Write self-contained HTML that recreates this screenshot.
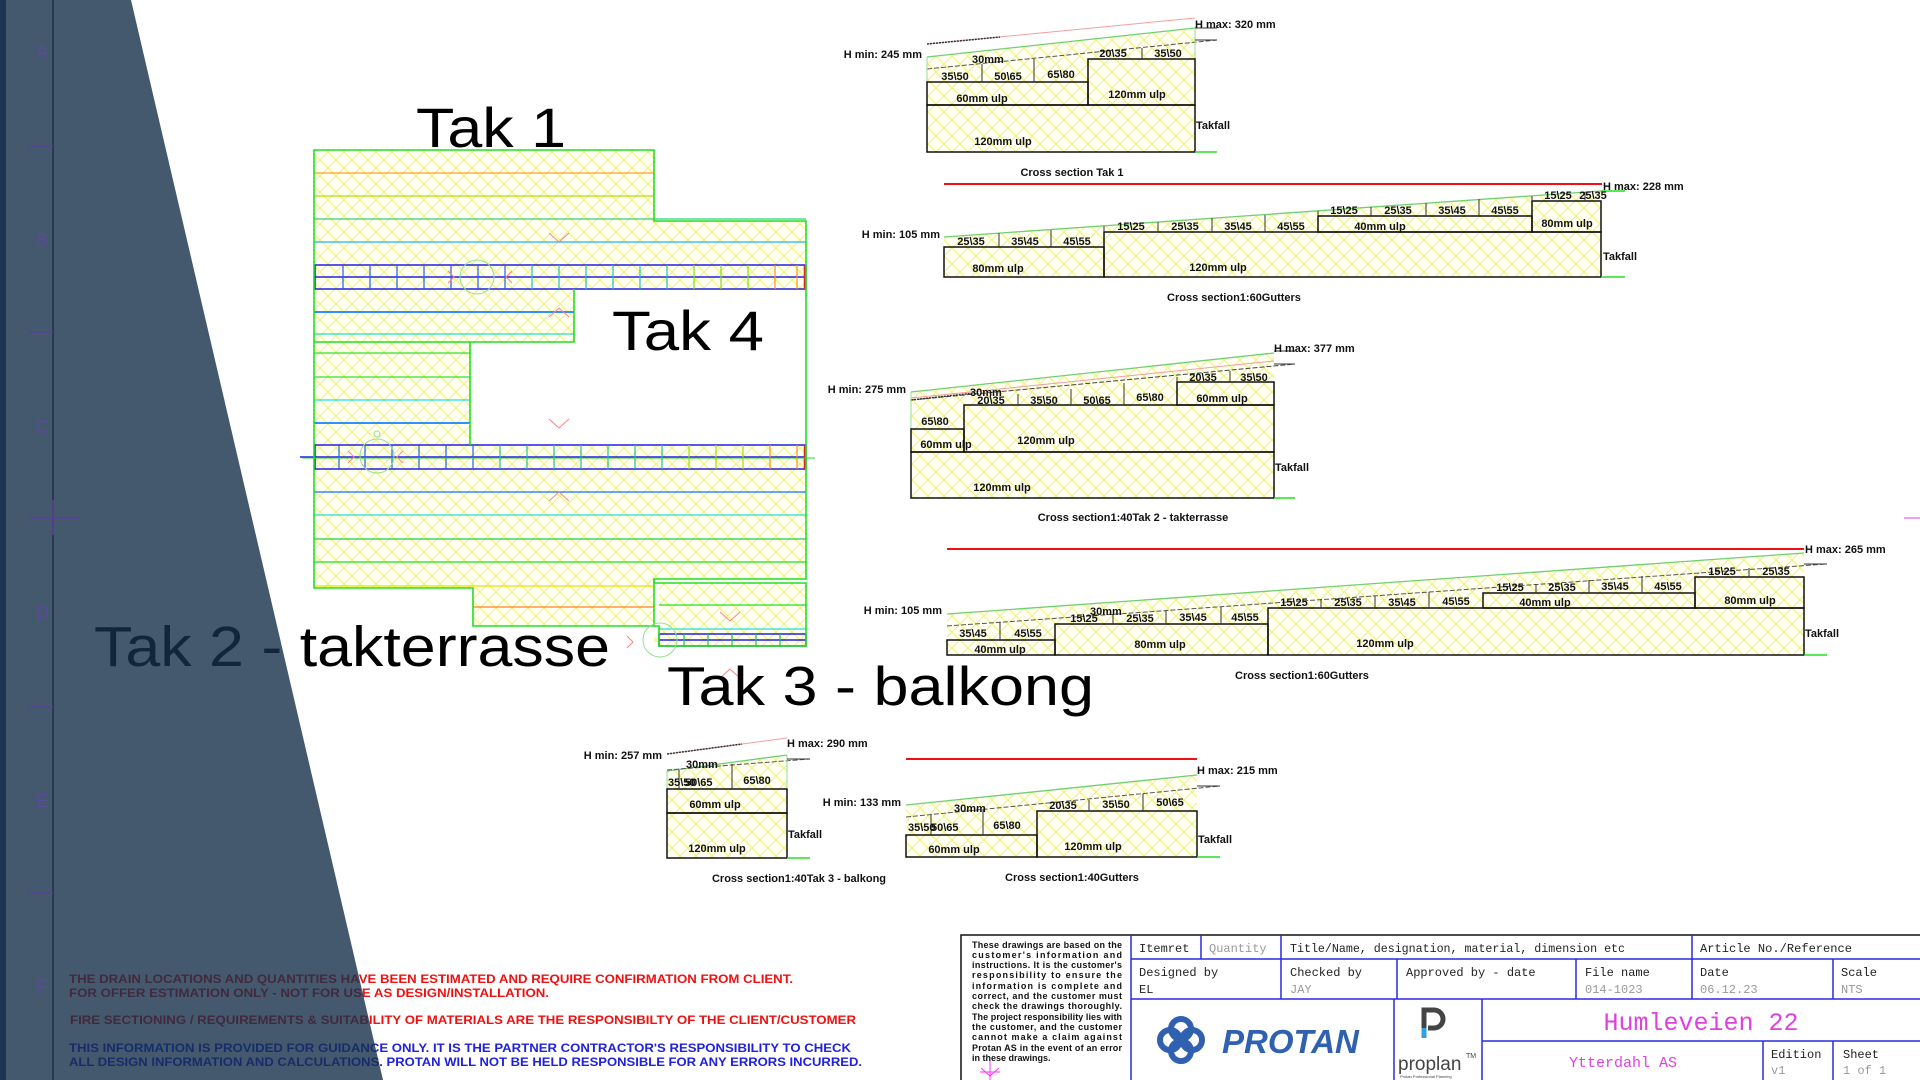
<!DOCTYPE html>
<html><head><meta charset="utf-8"><style>
html,body{margin:0;padding:0;background:#fff;}
svg{display:block;}
.t{font-family:"Liberation Sans",Arial,sans-serif;font-weight:bold;font-size:11px;fill:#111;}
.c{text-anchor:middle;}
.big{font-family:"Liberation Sans",Arial,sans-serif;fill:#000;}
.tb{font-family:"Liberation Mono","DejaVu Sans Mono",monospace;font-size:12px;fill:#222;}
.tv{font-family:"Liberation Mono","DejaVu Sans Mono",monospace;font-size:12px;fill:#999;}
</style></head><body>
<svg width="1920" height="1080" viewBox="0 0 1920 1080" xmlns="http://www.w3.org/2000/svg">
<defs>
<pattern id="h" width="16" height="16" patternUnits="userSpaceOnUse">
<rect width="16" height="16" fill="#fffff2"/>
<path d="M0 0L16 16M16 0L0 16" stroke="#f0ee70" stroke-width="0.9"/>
</pattern>
</defs>
<rect width="1920" height="1080" fill="#fff"/>

<!-- PLAN -->
<g>
<path d="M314 150H654V221H806V579H654V646H659V583H806V646H659V626H473V588H314Z" fill="url(#h)"/>
<rect x="574" y="289" width="232" height="156" fill="#fff"/>
<rect x="470" y="342" width="104" height="103" fill="#fff"/>
<g stroke-width="1.3" fill="none">
<line x1="314" y1="173" x2="654" y2="173" stroke="#ffa020"/>
<line x1="314" y1="196" x2="654" y2="196" stroke="#b0e000"/>
<line x1="314" y1="219" x2="806" y2="219" stroke="#30d080"/>
<line x1="314" y1="242" x2="806" y2="242" stroke="#20b0ff"/>
<line x1="314" y1="312" x2="574" y2="312" stroke="#3090ff" stroke-width="2"/>
<line x1="314" y1="334" x2="574" y2="334" stroke="#20e0c0"/>
<line x1="314" y1="353" x2="470" y2="353" stroke="#30e030"/>
<line x1="314" y1="377" x2="470" y2="377" stroke="#30e030"/>
<line x1="314" y1="400" x2="470" y2="400" stroke="#20e0e0"/>
<line x1="314" y1="423" x2="470" y2="423" stroke="#3090ff" stroke-width="2"/>
<line x1="314" y1="492" x2="806" y2="492" stroke="#1070ff"/>
<line x1="314" y1="515" x2="806" y2="515" stroke="#20e0e0"/>
<line x1="314" y1="539" x2="806" y2="539" stroke="#20d040"/>
<line x1="314" y1="562" x2="806" y2="562" stroke="#20e020"/>
<line x1="314" y1="586" x2="654" y2="586" stroke="#e8e000"/>
<line x1="473" y1="607" x2="654" y2="607" stroke="#ff8020"/>
<line x1="659" y1="605" x2="806" y2="605" stroke="#20e020"/>
<line x1="659" y1="629" x2="806" y2="629" stroke="#20e0e0"/>
</g>
<g stroke="#2020e0" stroke-width="1.5" fill="none">
<rect x="315" y="265" width="491" height="24"/>
<line x1="315" y1="277" x2="806" y2="277"/>
<rect x="315" y="445" width="491" height="24"/>
<line x1="300" y1="457" x2="806" y2="457"/>
<rect x="659" y="634" width="147" height="12"/>
<line x1="659" y1="640" x2="806" y2="640"/>
</g>
<g stroke-width="1.2">
<path d="M343 265v24M370 265v24M397 265v24M424 265v24M451 265v24M478 265v24M505 265v24" stroke="#2060f0"/>
<path d="M532 265v24M559 265v24M586 265v24M613 265v24M640 265v24M667 265v24" stroke="#20c0c0"/>
<path d="M694 265v24M721 265v24M748 265v24" stroke="#80e000"/>
<path d="M775 265v24M797 265v24" stroke="#ff9020"/>
<path d="M339 445v24M365 445v24M392 445v24M419 445v24M446 445v24M473 445v24" stroke="#2060f0"/>
<path d="M500 445v24M527 445v24M554 445v24M581 445v24M608 445v24M635 445v24M662 445v24" stroke="#20c0a0"/>
<path d="M689 445v24M716 445v24M743 445v24" stroke="#a0e000"/>
<path d="M770 445v24M797 445v24" stroke="#ff9020"/>
<path d="M684 634v12M708 634v12M732 634v12M756 634v12M780 634v12" stroke="#20c060"/>
</g>
<line x1="805" y1="265" x2="805" y2="289" stroke="#e02020" stroke-width="2.5"/>
<line x1="805" y1="445" x2="805" y2="469" stroke="#e02020" stroke-width="2.5"/>
<line x1="302" y1="458" x2="815" y2="458" stroke="#30d030" stroke-width="1"/>
<path d="M314 150H654V221H806V579H654V583H806V646H659V626H473V588H314Z" fill="none" stroke="#20e020" stroke-width="1.6"/>
<path d="M314 342H574V289M470 342V445" fill="none" stroke="#20e020" stroke-width="1.6"/>
<line x1="654" y1="579" x2="654" y2="626" stroke="#20e020" stroke-width="1.6"/>
<g fill="none" stroke="#90e090" stroke-width="1">
<circle cx="477" cy="277" r="17"/><circle cx="377" cy="456" r="17"/><circle cx="660" cy="640" r="17"/><circle cx="377" cy="434" r="3"/>
</g>
<g fill="none" stroke="#ff8080" stroke-width="1">
<path d="M549 233l10 9 10-9M549 317l10-9 10 9M549 419l10 9 10-9M549 501l10-9 10 9M720 612l10 9 10-9M720 678l10-9 10 9"/>
<path d="M448 271l6 6-6 6M512 271l-6 6 6 6M348 451l6 6-6 6M403 451l-6 6 6 6M627 636l6 6-6 6"/>
</g>
</g>

<text class="big" x="416" y="147" font-size="56" textLength="150" lengthAdjust="spacingAndGlyphs">Tak 1</text>
<text class="big" x="612" y="350" font-size="56" textLength="152" lengthAdjust="spacingAndGlyphs">Tak 4</text>
<text class="big" x="94" y="666" font-size="57" textLength="516" lengthAdjust="spacingAndGlyphs">Tak 2 - takterrasse</text>
<text class="big" x="667" y="705" font-size="55" textLength="427" lengthAdjust="spacingAndGlyphs">Tak 3 - balkong</text>

<!-- CS1 -->
<g>
<polygon points="927,57 1195,28 1195,152 927,152" fill="url(#h)"/>
<line x1="927" y1="44" x2="1195" y2="18" stroke="#f0a0a0"/>
<line x1="927" y1="44" x2="1000" y2="37" stroke="#333" stroke-width="1.5" stroke-dasharray="2 1"/>
<line x1="927" y1="57" x2="1195" y2="28" stroke="#70d070" stroke-width="1.3"/>
<line x1="927" y1="69" x2="1217" y2="40" stroke="#555" stroke-dasharray="5 2"/>
<path d="M927 57V82M1195 28V59" stroke="#90e090"/>
<g fill="none" stroke="#111" stroke-width="1.5">
<rect x="927" y="105" width="268" height="47"/>
<rect x="927" y="82" width="161" height="23"/>
<rect x="1088" y="59" width="107" height="46"/>
</g>
<path d="M982 64V82M1034 59V82M1142 48V59M1195 28H1217M1195 40H1217" stroke="#333"/>
<line x1="1195" y1="152" x2="1217" y2="152" stroke="#20e020" stroke-width="1.5"/>
<text class="t" x="1195" y="28">H max: 320 mm</text>
<text class="t" x="922" y="58" text-anchor="end">H min: 245 mm</text>
<text class="t" x="1196" y="129">Takfall</text>
<text class="t c" x="1072" y="176">Cross section Tak 1</text>
<text class="t" x="972" y="63">30mm</text>
<text class="t c" x="955" y="80">35\50</text>
<text class="t c" x="1008" y="80">50\65</text>
<text class="t c" x="1061" y="78">65\80</text>
<text class="t c" x="1113" y="57">20\35</text>
<text class="t c" x="1168" y="57">35\50</text>
<text class="t c" x="982" y="102">60mm ulp</text>
<text class="t c" x="1137" y="98">120mm ulp</text>
<text class="t c" x="1003" y="145">120mm ulp</text>
</g>

<!-- CS2 -->
<g>
<polygon points="944,247 944,237 1601,191 1601,277 944,277" fill="url(#h)"/>
<line x1="944" y1="184" x2="1602" y2="184" stroke="#f01010" stroke-width="2"/>
<line x1="944" y1="237" x2="1601" y2="191" stroke="#70d070" stroke-width="1.3"/>
<path d="M1601 191H1625" stroke="#20e020" stroke-width="1.5"/>
<g fill="none" stroke="#111" stroke-width="1.5">
<rect x="944" y="247" width="160" height="30"/>
<rect x="1104" y="232" width="497" height="45"/>
<rect x="1318" y="216" width="214" height="16"/>
<rect x="1532" y="201" width="69" height="31"/>
</g>
<path d="M999 233V247M1051 230V247M1158 222V232M1212 218V232M1265 215V232M1318 211V216M1371 207V216M1426 203V216M1479 199V216M1585 192V201M1104 226V232M1532 196V201" stroke="#333"/>
<line x1="1601" y1="277" x2="1625" y2="277" stroke="#20e020" stroke-width="1.5"/>
<text class="t" x="1603" y="190">H max: 228 mm</text>
<text class="t" x="940" y="238" text-anchor="end">H min: 105 mm</text>
<text class="t" x="1603" y="260">Takfall</text>
<text class="t c" x="1234" y="301">Cross section1:60Gutters</text>
<text class="t c" x="971" y="245">25\35</text><text class="t c" x="1025" y="245">35\45</text><text class="t c" x="1077" y="245">45\55</text>
<text class="t c" x="1131" y="230">15\25</text><text class="t c" x="1185" y="230">25\35</text><text class="t c" x="1238" y="230">35\45</text><text class="t c" x="1291" y="230">45\55</text>
<text class="t c" x="1344" y="214">15\25</text><text class="t c" x="1398" y="214">25\35</text><text class="t c" x="1452" y="214">35\45</text><text class="t c" x="1505" y="214">45\55</text>
<text class="t c" x="1558" y="199">15\25</text><text class="t c" x="1593" y="199">25\35</text>
<text class="t c" x="998" y="272">80mm ulp</text>
<text class="t c" x="1218" y="271">120mm ulp</text>
<text class="t c" x="1380" y="230">40mm ulp</text>
<text class="t c" x="1567" y="227">80mm ulp</text>
</g>

<!-- CS3 -->
<g>
<polygon points="911,392 1274,353 1274,498 911,498" fill="url(#h)"/>
<line x1="911" y1="392" x2="1274" y2="353" stroke="#70d070" stroke-width="1.3"/>
<line x1="911" y1="398" x2="1274" y2="361" stroke="#f0a0a0"/>
<line x1="911" y1="400" x2="1295" y2="364" stroke="#444" stroke-dasharray="5 2"/>
<line x1="911" y1="400" x2="975" y2="393" stroke="#333" stroke-width="1.5" stroke-dasharray="2 1"/>
<path d="M911 392V429" stroke="#90e090"/>
<g fill="none" stroke="#111" stroke-width="1.5">
<rect x="911" y="452" width="363" height="46"/>
<rect x="911" y="429" width="53" height="23"/>
<rect x="964" y="405" width="310" height="47"/>
<rect x="1177" y="382" width="97" height="23"/>
</g>
<path d="M1018 394V405M1071 389V405M1124 383V405M1177 377V382M1230 371V382M1274 351H1295M1274 364H1295" stroke="#333"/>
<line x1="1274" y1="498" x2="1295" y2="498" stroke="#20e020" stroke-width="1.5"/>
<text class="t" x="1274" y="352">H max: 377 mm</text>
<text class="t" x="906" y="393" text-anchor="end">H min: 275 mm</text>
<text class="t" x="1275" y="471">Takfall</text>
<text class="t c" x="1133" y="521">Cross section1:40Tak 2 - takterrasse</text>
<text class="t" x="970" y="396">30mm</text>
<text class="t c" x="991" y="404">20\35</text><text class="t c" x="1044" y="404">35\50</text><text class="t c" x="1097" y="404">50\65</text><text class="t c" x="1150" y="401">65\80</text>
<text class="t c" x="1203" y="381">20\35</text><text class="t c" x="1254" y="381">35\50</text>
<text class="t c" x="1222" y="402">60mm ulp</text>
<text class="t c" x="935" y="425">65\80</text>
<text class="t c" x="946" y="448">60mm ulp</text>
<text class="t c" x="1046" y="444">120mm ulp</text>
<text class="t c" x="1002" y="491">120mm ulp</text>
</g>

<!-- CS4 -->
<g>
<polygon points="947,614 1804,553 1804,655 947,655" fill="url(#h)"/>
<line x1="947" y1="549" x2="1804" y2="549" stroke="#f01010" stroke-width="2"/>
<line x1="947" y1="614" x2="1804" y2="553" stroke="#70d070" stroke-width="1.3"/>
<line x1="947" y1="626" x2="1827" y2="564" stroke="#555" stroke-dasharray="5 2"/>
<g fill="none" stroke="#111" stroke-width="1.5">
<rect x="947" y="640" width="108" height="15"/>
<rect x="1055" y="624" width="213" height="31"/>
<rect x="1268" y="608" width="536" height="47"/>
<rect x="1483" y="593" width="212" height="15"/>
<rect x="1695" y="577" width="109" height="31"/>
</g>
<path d="M1000 622V640M1113 614V624M1166 611V624M1221 607V624M1321 599V608M1375 596V608M1429 592V608M1536 584V593M1589 580V593M1642 576V593M1749 568V577M1804 564H1827" stroke="#333"/>
<line x1="1804" y1="655" x2="1827" y2="655" stroke="#20e020" stroke-width="1.5"/>
<text class="t" x="1805" y="553">H max: 265 mm</text>
<text class="t" x="942" y="614" text-anchor="end">H min: 105 mm</text>
<text class="t" x="1805" y="637">Takfall</text>
<text class="t c" x="1302" y="679">Cross section1:60Gutters</text>
<text class="t" x="1090" y="615">30mm</text>
<text class="t c" x="973" y="637">35\45</text><text class="t c" x="1028" y="637">45\55</text>
<text class="t c" x="1000" y="653">40mm ulp</text>
<text class="t c" x="1084" y="622">15\25</text><text class="t c" x="1140" y="622">25\35</text><text class="t c" x="1193" y="621">35\45</text><text class="t c" x="1245" y="621">45\55</text>
<text class="t c" x="1160" y="648">80mm ulp</text>
<text class="t c" x="1294" y="606">15\25</text><text class="t c" x="1348" y="606">25\35</text><text class="t c" x="1402" y="606">35\45</text><text class="t c" x="1456" y="605">45\55</text>
<text class="t c" x="1385" y="647">120mm ulp</text>
<text class="t c" x="1510" y="591">15\25</text><text class="t c" x="1562" y="591">25\35</text><text class="t c" x="1615" y="590">35\45</text><text class="t c" x="1668" y="590">45\55</text>
<text class="t c" x="1545" y="606">40mm ulp</text>
<text class="t c" x="1722" y="575">15\25</text><text class="t c" x="1776" y="575">25\35</text>
<text class="t c" x="1750" y="604">80mm ulp</text>
</g>

<!-- CS5 -->
<g>
<polygon points="667,771 787,755 787,858 667,858" fill="url(#h)"/>
<line x1="667" y1="754" x2="787" y2="738" stroke="#f0a0a0"/>
<line x1="667" y1="754" x2="742" y2="744" stroke="#333" stroke-width="1.5" stroke-dasharray="2 1"/>
<line x1="667" y1="771" x2="787" y2="755" stroke="#70d070" stroke-width="1.3"/>
<line x1="667" y1="770" x2="810" y2="759" stroke="#555" stroke-dasharray="5 2"/>
<path d="M667 771V789M787 755V789" stroke="#90e090"/>
<g fill="none" stroke="#111" stroke-width="1.5">
<rect x="667" y="789" width="120" height="24"/>
<rect x="667" y="813" width="120" height="45"/>
</g>
<path d="M679 770V789M732 764V789M787 759H810" stroke="#333"/>
<line x1="787" y1="858" x2="810" y2="858" stroke="#20e020" stroke-width="1.5"/>
<text class="t" x="787" y="747">H max: 290 mm</text>
<text class="t" x="662" y="759" text-anchor="end">H min: 257 mm</text>
<text class="t" x="788" y="838">Takfall</text>
<text class="t c" x="799" y="882">Cross section1:40Tak 3 - balkong</text>
<text class="t" x="686" y="768">30mm</text>
<text class="t" x="668" y="786">35\50</text><text class="t" x="685" y="786">50\65</text>
<text class="t c" x="757" y="784">65\80</text>
<text class="t c" x="715" y="808">60mm ulp</text>
<text class="t c" x="717" y="852">120mm ulp</text>
</g>

<!-- CS6 -->
<g>
<polygon points="906,805 1197,775 1197,857 906,857" fill="url(#h)"/>
<line x1="906" y1="759" x2="1197" y2="759" stroke="#f01010" stroke-width="2"/>
<line x1="906" y1="805" x2="1197" y2="775" stroke="#70d070" stroke-width="1.3"/>
<line x1="906" y1="817" x2="1220" y2="786" stroke="#555" stroke-dasharray="5 2"/>
<g fill="none" stroke="#111" stroke-width="1.5">
<rect x="906" y="835" width="131" height="22"/>
<rect x="1037" y="811" width="160" height="46"/>
</g>
<path d="M931 815V835M983 810V835M1089 800V811M1143 794V811M1197 786H1220" stroke="#333"/>
<line x1="1197" y1="857" x2="1220" y2="857" stroke="#20e020" stroke-width="1.5"/>
<text class="t" x="1197" y="774">H max: 215 mm</text>
<text class="t" x="901" y="806" text-anchor="end">H min: 133 mm</text>
<text class="t" x="1198" y="843">Takfall</text>
<text class="t c" x="1072" y="881">Cross section1:40Gutters</text>
<text class="t" x="954" y="812">30mm</text>
<text class="t" x="908" y="831">35\50</text><text class="t" x="931" y="831">50\65</text>
<text class="t c" x="1007" y="829">65\80</text>
<text class="t c" x="1063" y="809">20\35</text><text class="t c" x="1116" y="808">35\50</text><text class="t c" x="1170" y="806">50\65</text>
<text class="t c" x="954" y="853">60mm ulp</text>
<text class="t c" x="1093" y="850">120mm ulp</text>
</g>

<!-- notes -->
<g font-family="'Liberation Sans',Arial,sans-serif" font-weight="bold" font-size="11.5">
<text x="69" y="983" fill="#f01010" textLength="724" lengthAdjust="spacingAndGlyphs">THE DRAIN LOCATIONS AND QUANTITIES HAVE BEEN ESTIMATED AND REQUIRE CONFIRMATION FROM CLIENT.</text>
<text x="69" y="997" fill="#f01010" textLength="480" lengthAdjust="spacingAndGlyphs">FOR OFFER ESTIMATION ONLY - NOT FOR USE AS DESIGN/INSTALLATION.</text>
<text x="70" y="1024" fill="#f01010" textLength="786" lengthAdjust="spacingAndGlyphs">FIRE SECTIONING / REQUIREMENTS &amp; SUITABILITY OF MATERIALS  ARE THE RESPONSIBILTY OF THE CLIENT/CUSTOMER</text>
<text x="69" y="1052" fill="#2020e0" textLength="782" lengthAdjust="spacingAndGlyphs">THIS INFORMATION IS PROVIDED FOR GUIDANCE ONLY.  IT IS THE PARTNER CONTRACTOR'S RESPONSIBILITY TO CHECK</text>
<text x="69" y="1066" fill="#2020e0" textLength="793" lengthAdjust="spacingAndGlyphs">ALL DESIGN INFORMATION AND CALCULATIONS.  PROTAN WILL NOT BE HELD RESPONSIBLE FOR ANY ERRORS INCURRED.</text>
</g>

<!-- title block -->
<g>
<path d="M961 1080V935H1920" fill="none" stroke="#111" stroke-width="1.5"/>
<g stroke="#2a2ae0" stroke-width="1.5" fill="none">
<path d="M1131 935V1080M1131 959H1920M1131 999H1920M1201 935V959M1281 935V999M1692 935V999M1397 959V999M1576 959V999M1833 959V999M1394 999V1080M1482 999V1080M1482 1041H1920M1763 1041V1080M1833 1041V1080"/>
</g>
<path d="M981 1068l9 8 9-8M990 1060V1080M980 1072H1000" stroke="#ff30ff" fill="none"/>
<text class="tb" x="1139" y="952">Itemret</text>
<text class="tv" x="1209" y="952">Quantity</text>
<text class="tb" x="1290" y="952" textLength="335" lengthAdjust="spacingAndGlyphs">Title/Name, designation, material, dimension etc</text>
<text class="tb" x="1700" y="952" textLength="152" lengthAdjust="spacingAndGlyphs">Article No./Reference</text>
<text class="tb" x="1139" y="976">Designed by</text><text class="tb" x="1139" y="993">EL</text>
<text class="tb" x="1290" y="976">Checked by</text><text class="tv" x="1290" y="993">JAY</text>
<text class="tb" x="1406" y="976">Approved by - date</text>
<text class="tb" x="1585" y="976">File name</text><text class="tv" x="1585" y="993">014-1023</text>
<text class="tb" x="1700" y="976">Date</text><text class="tv" x="1700" y="993">06.12.23</text>
<text class="tb" x="1841" y="976">Scale</text><text class="tv" x="1841" y="993">NTS</text>
<text x="1701" y="1030" text-anchor="middle" font-family="'Liberation Mono','DejaVu Sans Mono',monospace" font-size="25" fill="#e040e0">Humleveien 22</text>
<text x="1623" y="1067" text-anchor="middle" font-family="'Liberation Mono','DejaVu Sans Mono',monospace" font-size="15" fill="#e040e0">Ytterdahl AS</text>
<text class="tb" x="1771" y="1058" font-size="14">Edition</text><text class="tv" x="1771" y="1074">v1</text>
<text class="tb" x="1843" y="1058" font-size="14">Sheet</text><text class="tv" x="1843" y="1074">1 of 1</text>
<g fill="none" stroke="#3060b0" stroke-width="6">
<circle cx="1170" cy="1040" r="10"/><circle cx="1192" cy="1040" r="10"/><circle cx="1181" cy="1029" r="10"/><circle cx="1181" cy="1051" r="10"/>
</g>
<text x="1222" y="1053" font-family="'Liberation Sans',Arial,sans-serif" font-weight="bold" font-style="italic" font-size="33" fill="#3060b0">PROTAN</text>
<path d="M1424 1038V1010H1434a9 9 0 0 1 0 18H1428" fill="none" stroke="#444" stroke-width="5"/>
<path d="M1424 1038V1028" stroke="#30a0e0" stroke-width="5"/>
<text x="1398" y="1070" font-family="'Liberation Sans',Arial,sans-serif" font-size="19" fill="#444">proplan</text>
<text x="1466" y="1058" font-family="'Liberation Sans',Arial,sans-serif" font-size="7" fill="#444">TM</text>
<text x="1400" y="1078" font-family="'Liberation Sans',Arial,sans-serif" font-size="4" fill="#444">Protan Professional Planning</text>
<g font-family="'Liberation Sans',Arial,sans-serif" font-weight="bold" font-size="9" fill="#111">
<text x="972" y="948" textLength="150">These drawings are based on the</text>
<text x="972" y="958" textLength="150">customer's information and</text>
<text x="972" y="968" textLength="150">instructions. It is the customer's</text>
<text x="972" y="978" textLength="150">responsibility to ensure the</text>
<text x="972" y="989" textLength="150">information is complete and</text>
<text x="972" y="999" textLength="150">correct, and the customer must</text>
<text x="972" y="1009" textLength="150">check the drawings thoroughly.</text>
<text x="972" y="1020" textLength="150">The project responsibility lies with</text>
<text x="972" y="1030" textLength="150">the customer, and the customer</text>
<text x="972" y="1040" textLength="150">cannot make a claim against</text>
<text x="972" y="1051" textLength="150">Protan AS in the event of an error</text>
<text x="972" y="1061">in these drawings.</text>
</g>
</g>
<line x1="1904" y1="518" x2="1920" y2="518" stroke="#e040e0"/>

<!-- dark overlay panel -->
<polygon points="0,0 131,0 383,1080 0,1080" fill="rgb(21,47,74)" fill-opacity="0.8"/>
<rect x="0" y="0" width="6" height="1080" fill="#1c3550"/>
<line x1="53" y1="0" x2="53" y2="1080" stroke="#1e3044" stroke-width="1.5"/>
<g stroke="#5a3f9a" stroke-width="1.5">
<path d="M30 146H53M30 332H53M30 707H53M30 893H53M30 518H80M53 500V535"/>
</g>
<g font-family="'Liberation Sans',Arial,sans-serif" font-size="18" fill="#5a4a9a">
<text x="36" y="58">A</text><text x="36" y="246">B</text><text x="36" y="433">C</text><text x="36" y="619">D</text><text x="36" y="807">E</text><text x="36" y="993">F</text>
</g>
</svg>
</body></html>
